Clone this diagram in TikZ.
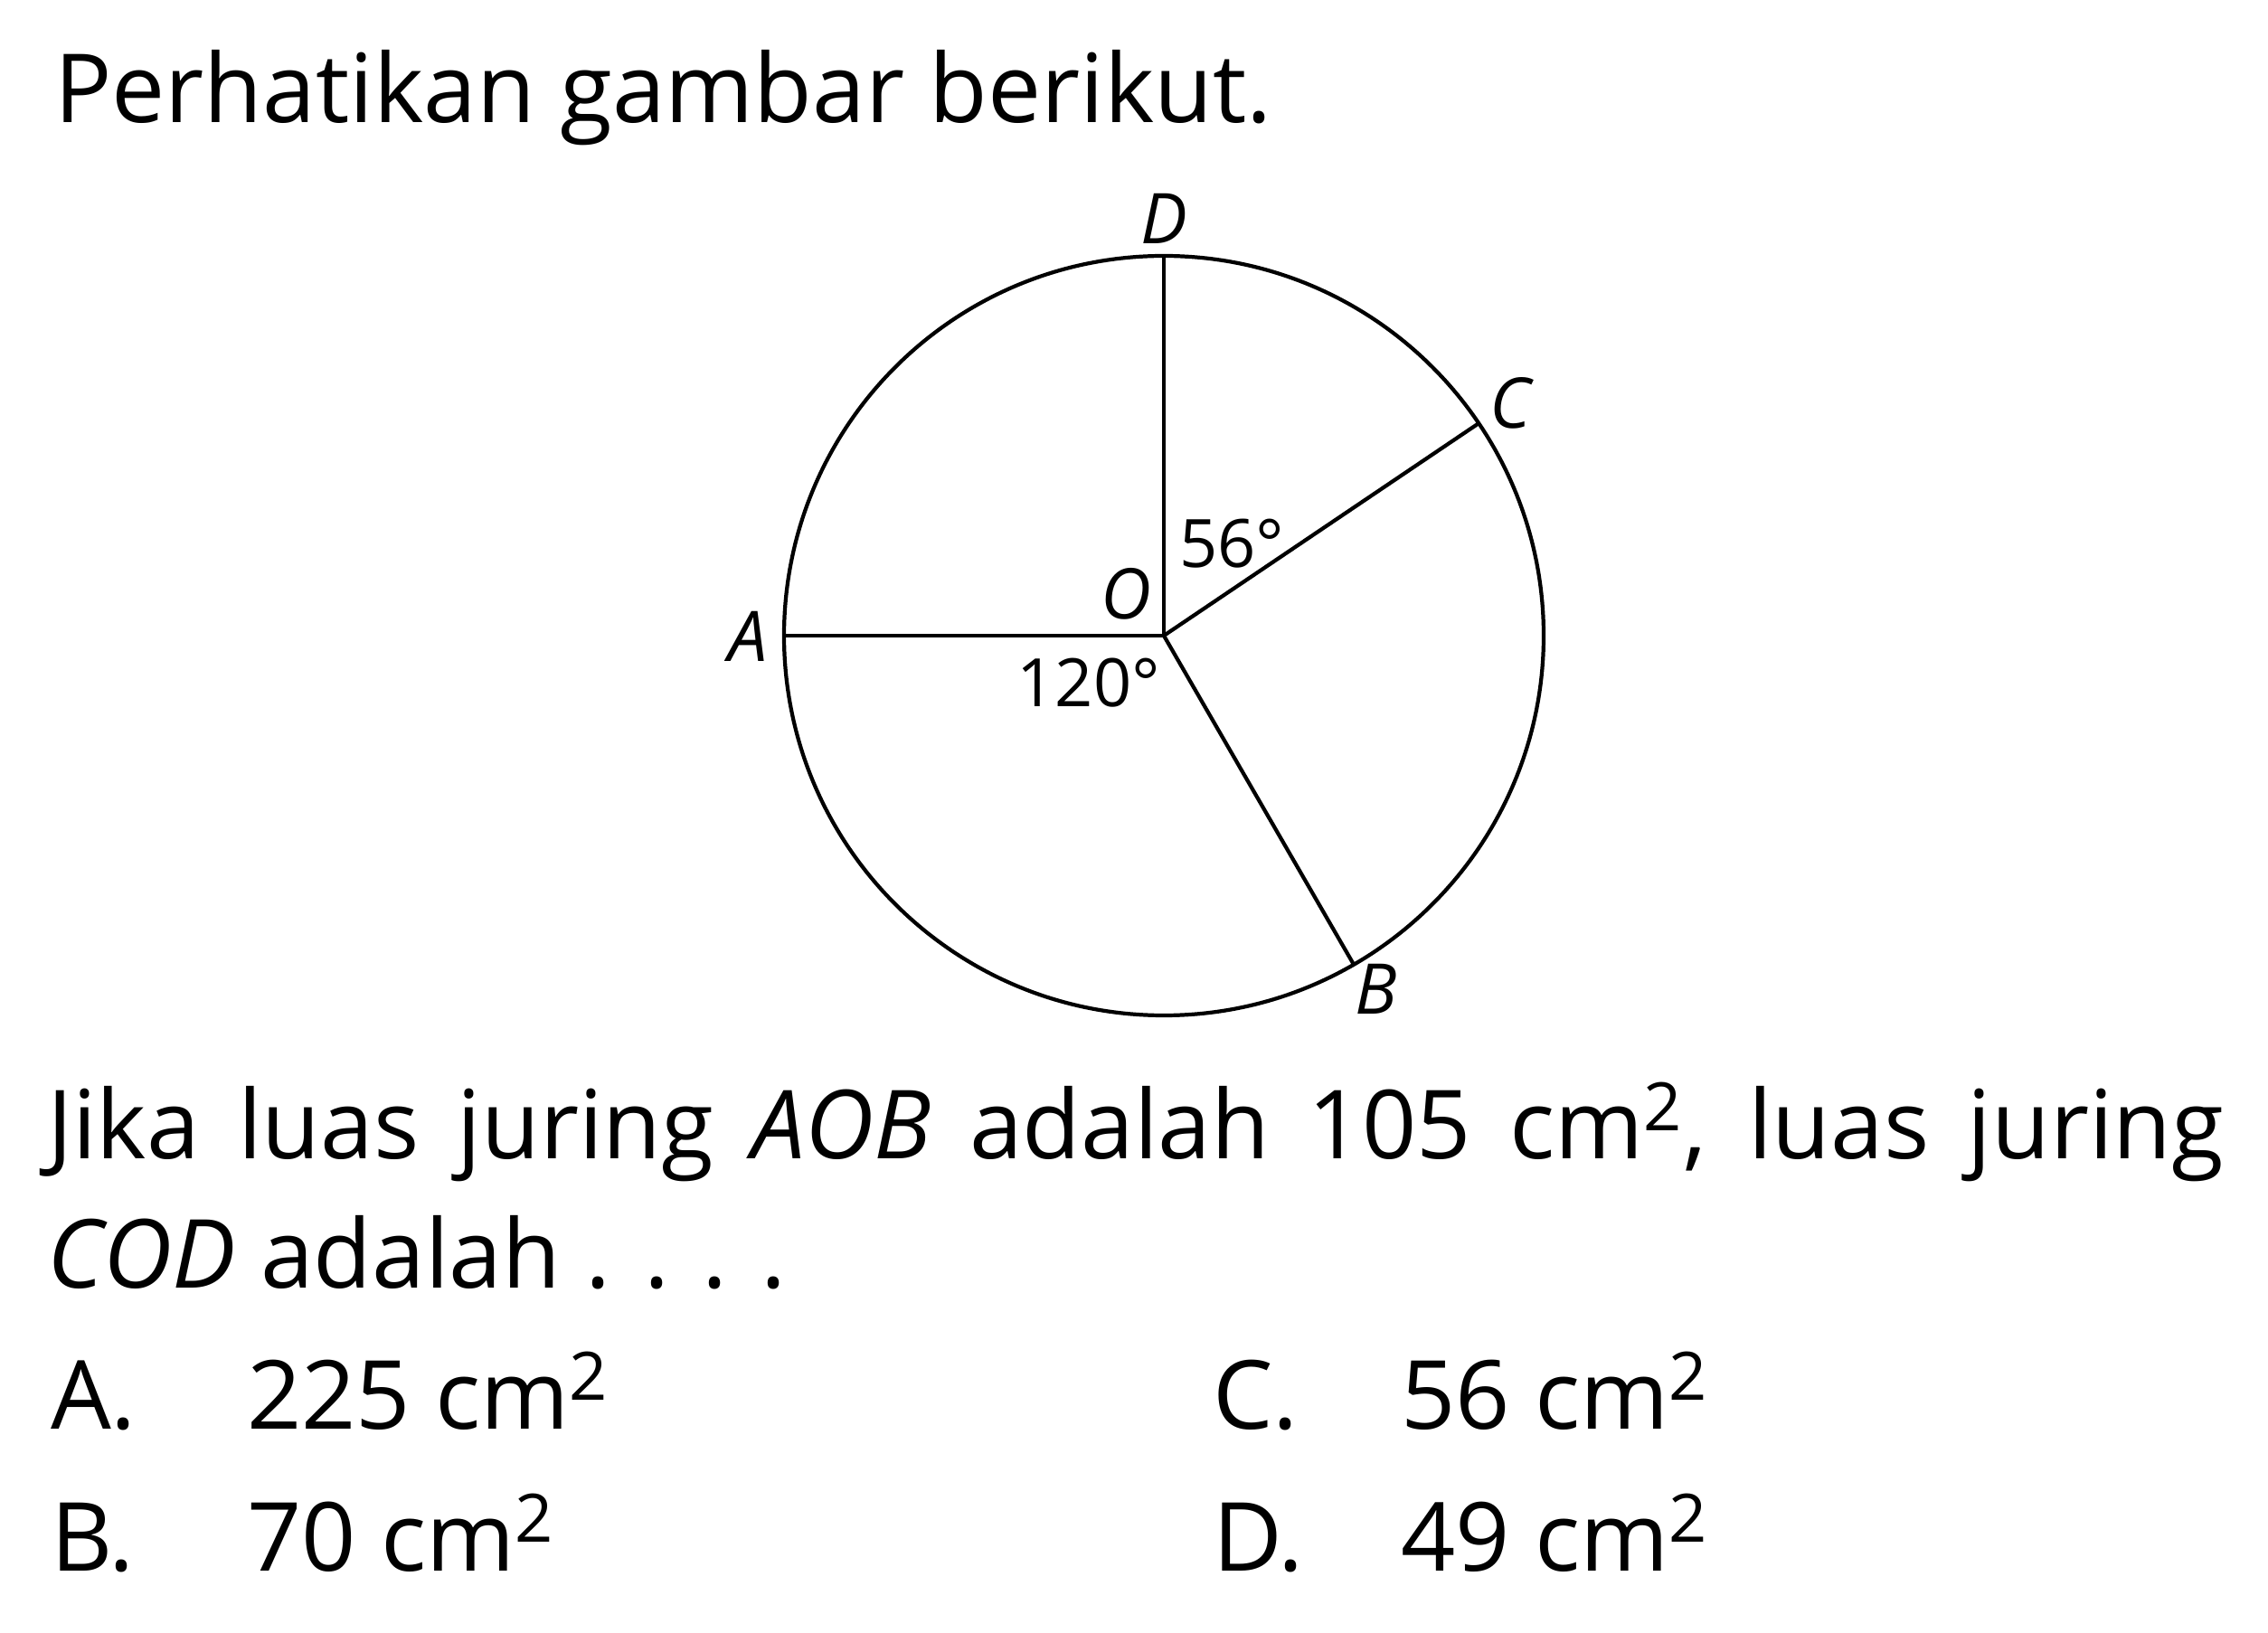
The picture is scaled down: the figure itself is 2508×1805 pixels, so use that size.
\documentclass[tikz,border=0pt]{standalone}
\usepackage{fontspec}
\setmainfont{Open Sans}
\usetikzlibrary{positioning}

\begin{document}
\begin{tikzpicture}[x=0.01cm, y=0.01cm, line width=1.2pt,
    txt/.style={anchor=base west, inner sep=0pt, font=\fontsize{30}{36}\selectfont},
    lbl/.style={inner sep=0pt, font=\fontsize{22}{26}\selectfont\itshape},
    deg/.style={inner sep=0pt, font=\fontsize{21}{25}\selectfont}]
    \useasboundingbox (0,0) rectangle (2508,1805);

    \node[txt] (title) at (58,1669) {Perhatikan gambar berikut.};

    \begin{scope}[shift={(1287,1102)}]
        \coordinate (O) at (0,0);
        \coordinate (D) at (90:420);
        \coordinate (C) at (34:420);
        \coordinate (A) at (180:420);
        \coordinate (B) at (-60:420);
        \draw (O) circle (420);
        \draw (A) -- (O) -- (D);
        \draw (O) -- (C);
        \draw (O) -- (B);
    \end{scope}

    \node[lbl] (lD) at (1287,1563) {D};
    \node[lbl] (lC) at (1670,1359) {C};
    \node[lbl] (lO) at (1245,1148) {O};
    \node[lbl] (lA) at (827,1101) {A};
    \node[lbl] (lB) at (1522,711) {B};
    \node[deg, anchor=base west] (a56) at (1302,1177) {56°};
    \node[deg, anchor=base east] (a120) at (1285,1023) {120°};

    \node[txt] (q1) at (50,523) {\makebox[24.06cm][s]{Jika luas juring \textit{AOB} adalah 105 cm\textsuperscript{2}, luas juring}};
    \node[txt] (q2) at (50,380) {\textit{COD} adalah . . . .};

    \node[txt] (oA) at (54,225) {A.};
    \node[txt] (vA) at (271,225) {225 cm\textsuperscript{2}};
    \node[txt] (oC) at (1339,225) {C.};
    \node[txt] (vC) at (1547,225) {56 cm\textsuperscript{2}};
    \node[txt] (oB) at (54,68) {B.};
    \node[txt] (vB) at (271,68) {70 cm\textsuperscript{2}};
    \node[txt] (oD) at (1339,68) {D.};
    \node[txt] (vD) at (1547,68) {49 cm\textsuperscript{2}};
\end{tikzpicture}
\end{document}
